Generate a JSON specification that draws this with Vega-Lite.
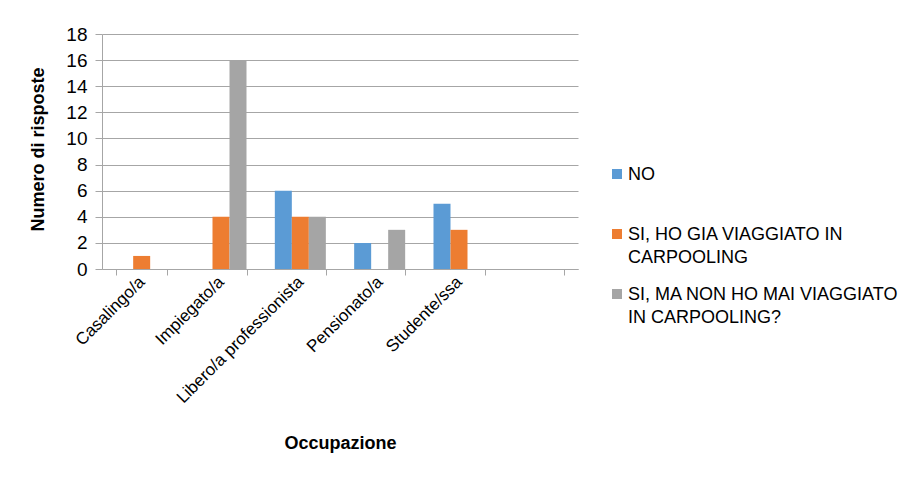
{
  "$schema": "https://vega.github.io/schema/vega-lite/v6.json",
  "autosize": "none",
  "padding": {"left": 102, "top": 34, "right": 323, "bottom": 208},
  "width": 476,
  "height": 235,
  "background": "white",
  "config": {
    "font": "Liberation Sans, Arial, sans-serif",
    "view": {"stroke": null}
  },
  "data": {
    "values": [
      {"occupazione": "Casalingo/a", "risposta": "NO", "n": 0},
      {"occupazione": "Casalingo/a", "risposta": "SI, HO GIA VIAGGIATO IN CARPOOLING", "n": 1},
      {"occupazione": "Casalingo/a", "risposta": "SI, MA NON HO MAI VIAGGIATO IN CARPOOLING?", "n": 0},
      {"occupazione": "Impiegato/a", "risposta": "NO", "n": 0},
      {"occupazione": "Impiegato/a", "risposta": "SI, HO GIA VIAGGIATO IN CARPOOLING", "n": 4},
      {"occupazione": "Impiegato/a", "risposta": "SI, MA NON HO MAI VIAGGIATO IN CARPOOLING?", "n": 16},
      {"occupazione": "Libero/a professionista", "risposta": "NO", "n": 6},
      {"occupazione": "Libero/a professionista", "risposta": "SI, HO GIA VIAGGIATO IN CARPOOLING", "n": 4},
      {"occupazione": "Libero/a professionista", "risposta": "SI, MA NON HO MAI VIAGGIATO IN CARPOOLING?", "n": 4},
      {"occupazione": "Pensionato/a", "risposta": "NO", "n": 2},
      {"occupazione": "Pensionato/a", "risposta": "SI, HO GIA VIAGGIATO IN CARPOOLING", "n": 0},
      {"occupazione": "Pensionato/a", "risposta": "SI, MA NON HO MAI VIAGGIATO IN CARPOOLING?", "n": 3},
      {"occupazione": "Studente/ssa", "risposta": "NO", "n": 5},
      {"occupazione": "Studente/ssa", "risposta": "SI, HO GIA VIAGGIATO IN CARPOOLING", "n": 3},
      {"occupazione": "Studente/ssa", "risposta": "SI, MA NON HO MAI VIAGGIATO IN CARPOOLING?", "n": 0}
    ]
  },
  "mark": {"type": "bar"},
  "encoding": {
    "x": {
      "field": "occupazione",
      "type": "nominal",
      "sort": null,
      "scale": {
        "domain": ["Casalingo/a", "Impiegato/a", "Libero/a professionista", "Pensionato/a", "Studente/ssa", " "],
        "paddingInner": 0.357,
        "paddingOuter": 0.1785
      },
      "axis": {
        "title": "Occupazione",
        "titleFontSize": 18,
        "titleFontWeight": "bold",
        "titleColor": "#000000",
        "titleBaseline": "middle",
        "titleY": 174,
        "labelAngle": -45,
        "labelAlign": "right",
        "labelBaseline": "middle",
        "labelFontSize": 17,
        "labelColor": "#000000",
        "labelPadding": 4,
        "tickBand": "extent",
        "tickSize": 6,
        "tickColor": "#a6a6a6",
        "domainColor": "#a6a6a6",
        "grid": false
      }
    },
    "xOffset": {
      "field": "risposta",
      "type": "nominal",
      "sort": null,
      "scale": {"paddingInner": 0, "paddingOuter": 0}
    },
    "y": {
      "field": "n",
      "type": "quantitative",
      "scale": {"domain": [0, 18]},
      "axis": {
        "title": "Numero di risposte",
        "titleFontSize": 18,
        "titleFontWeight": "bold",
        "titleColor": "#000000",
        "titleX": -64,
        "titleY": 115,
        "titleBaseline": "middle",
        "values": [0, 2, 4, 6, 8, 10, 12, 14, 16, 18],
        "labelFontSize": 19,
        "labelColor": "#000000",
        "labelPadding": 8,
        "tickSize": 7,
        "tickColor": "#a6a6a6",
        "domainColor": "#a6a6a6",
        "gridColor": "#a6a6a6",
        "gridWidth": 1
      }
    },
    "color": {
      "field": "risposta",
      "type": "nominal",
      "sort": null,
      "scale": {
        "domain": ["NO", "SI, HO GIA VIAGGIATO IN CARPOOLING", "SI, MA NON HO MAI VIAGGIATO IN CARPOOLING?"],
        "range": ["#5b9bd5", "#ed7d31", "#a5a5a5"]
      },
      "legend": {
        "title": null,
        "orient": "none",
        "legendX": 506,
        "legendY": 131,
        "symbolType": "square",
        "symbolSize": 100,
        "symbolOpacity": 1,
        "labelFontSize": 18,
        "labelColor": "#000000",
        "labelLimit": 400,
        "labelOffset": 2,
        "labelBaseline": "top",
        "rowPadding": 18,
        "labelExpr": "datum.label == 'SI, HO GIA VIAGGIATO IN CARPOOLING' ? ['SI, HO GIA VIAGGIATO IN', 'CARPOOLING'] : datum.label == 'SI, MA NON HO MAI VIAGGIATO IN CARPOOLING?' ? ['SI, MA NON HO MAI VIAGGIATO', 'IN CARPOOLING?'] : [datum.label, ' ']",
        "encoding": {
          "labels": {"dy": {"value": -8}, "lineHeight": {"value": 23}}
        }
      }
    }
  }
}
